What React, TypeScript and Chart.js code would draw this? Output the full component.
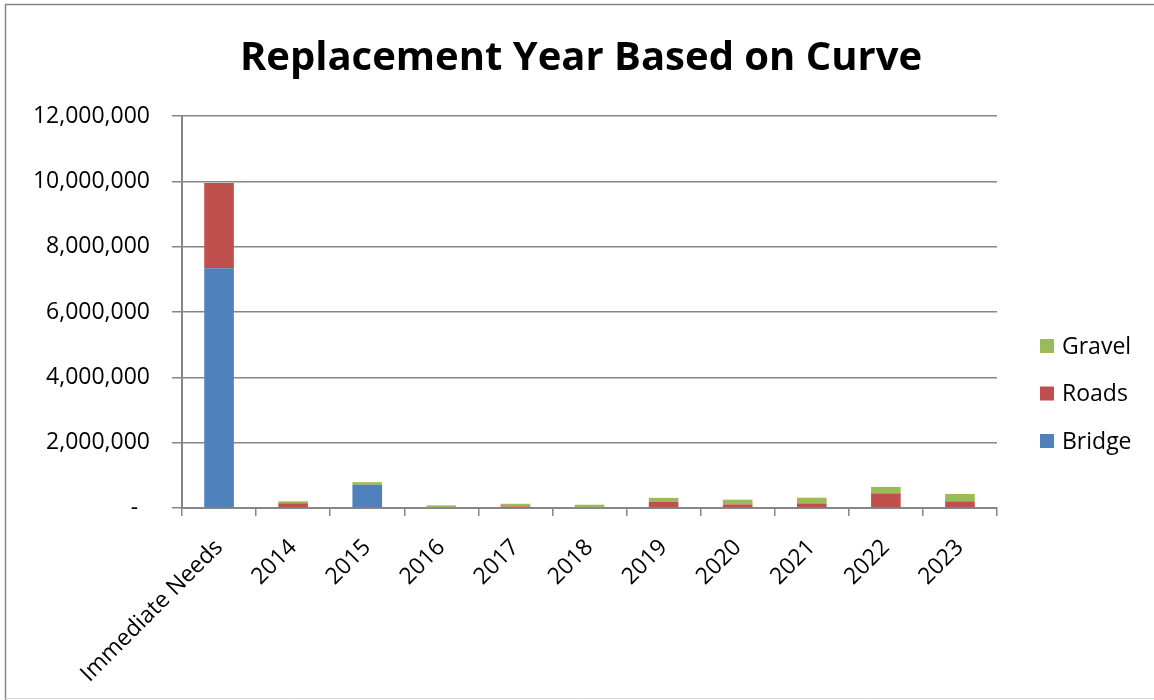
import React, { useEffect, useRef } from "react";
import { Chart, registerables } from "chart.js";

Chart.register(...registerables);

const categories = [
  "Immediate Needs",
  "2014",
  "2015",
  "2016",
  "2017",
  "2018",
  "2019",
  "2020",
  "2021",
  "2022",
  "2023",
];

const bridge = [7340000, 0, 710000, 0, 0, 0, 0, 0, 0, 0, 0];
const roads = [2610000, 145000, 0, 0, 50000, 0, 195000, 110000, 140000, 450000, 205000];
const gravel = [0, 60000, 80000, 80000, 80000, 100000, 115000, 145000, 175000, 195000, 225000];

const yTicks = [0, 2000000, 4000000, 6000000, 8000000, 10000000, 12000000];

const titleText = "Replacement Year Based on Curve";

const FONT = "'Open Sans', 'DejaVu Sans', sans-serif";
const AXIS_GREY = "#868686";
const LABEL_SIZE = 23;

// Frame around the whole chart plus the right-hand legend list.
const framePlugin = {
  id: "frameAndLegend",
  beforeDraw(chart: any) {
    const { ctx } = chart;
    ctx.save();
    ctx.fillStyle = "#ffffff";
    ctx.fillRect(0, 0, chart.width, chart.height);
    ctx.strokeStyle = AXIS_GREY;
    ctx.lineWidth = 1.5;
    ctx.beginPath();
    ctx.moveTo(5.5, chart.height);
    ctx.lineTo(5.5, 4.5);
    ctx.lineTo(chart.width, 4.5);
    ctx.stroke();
    ctx.strokeStyle = "#d9d9d9";
    ctx.lineWidth = 1;
    ctx.beginPath();
    ctx.moveTo(5.5, chart.height - 1.5);
    ctx.lineTo(chart.width, chart.height - 1.5);
    ctx.stroke();
    ctx.restore();
  },
  afterDraw(chart: any) {
    const { ctx } = chart;
    const items = chart.data.datasets.slice().reverse();
    const startY = 346;
    const step = 47.5;
    ctx.save();
    ctx.font = `${LABEL_SIZE}px ${FONT}`;
    ctx.textBaseline = "middle";
    ctx.textAlign = "left";
    items.forEach((ds: any, i: number) => {
      const y = startY + i * step;
      ctx.fillStyle = ds.backgroundColor;
      ctx.fillRect(1040, y - 7, 14, 14);
      ctx.fillStyle = "#000000";
      ctx.fillText(ds.label, 1062, y + 1);
    });
    ctx.restore();
  },
};

function formatTick(v: number): string {
  if (v === 0) return "-  ";
  return v.toLocaleString("en-US");
}

export default function App() {
  const canvasRef = useRef<HTMLCanvasElement | null>(null);

  useEffect(() => {
    if (!canvasRef.current) return;
    const chart = new Chart(canvasRef.current, {
      type: "bar",
      data: {
        labels: categories,
        datasets: [
          { label: "Bridge", data: bridge, backgroundColor: "#4F81BD", barPercentage: 0.4, categoryPercentage: 1 },
          { label: "Roads", data: roads, backgroundColor: "#C0504D", barPercentage: 0.4, categoryPercentage: 1 },
          { label: "Gravel", data: gravel, backgroundColor: "#9BBB59", barPercentage: 0.4, categoryPercentage: 1 },
        ],
      },
      options: {
        animation: false,
        responsive: false,
        maintainAspectRatio: false,
        layout: { padding: { left: 8, right: 0, top: 0, bottom: 10 } },
        plugins: {
          legend: { display: false },
          tooltip: { enabled: false },
          title: {
            display: true,
            text: titleText,
            color: "#000000",
            font: { family: FONT, size: 40, weight: "bold" },
            padding: { top: 35, bottom: 33 },
          },
        },
        scales: {
          x: {
            stacked: true,
            grid: {
              display: true,
              drawOnChartArea: false,
              drawTicks: true,
              tickLength: 8,
              color: AXIS_GREY,
              lineWidth: 1.5,
              offset: true,
            },
            border: { display: true, color: AXIS_GREY, width: 2 },
            ticks: {
              color: "#000000",
              font: { family: FONT, size: LABEL_SIZE },
              maxRotation: 45,
              minRotation: 45,
              autoSkip: false,
              padding: 18,
            },
            afterFit(scale: any) {
              scale.height = 182;
            },
          },
          y: {
            stacked: true,
            min: 0,
            max: 12000000,
            afterBuildTicks(scale: any) {
              scale.ticks = yTicks.map((v) => ({ value: v }));
            },
            grid: {
              color: AXIS_GREY,
              lineWidth: 1.5,
              drawTicks: true,
              tickLength: 10,
            },
            border: { display: true, color: AXIS_GREY, width: 2 },
            ticks: {
              color: "#000000",
              font: { family: FONT, size: LABEL_SIZE },
              padding: 22,
              callback: (v: any) => formatTick(Number(v)),
            },
            afterFit(scale: any) {
              scale.width = 174;
            },
          },
          // Empty right-hand axis that reserves the column the legend sits in.
          legendSpace: {
            type: "linear",
            position: "right",
            display: true,
            grid: { display: false, drawTicks: false },
            border: { display: false },
            ticks: { display: false },
            afterFit(scale: any) {
              scale.width = 157;
            },
          },
        },
      },
      plugins: [framePlugin],
    });
    return () => chart.destroy();
  }, []);

  return (
    <div style={{ position: "absolute", left: 0, top: 0, width: 1154, height: 700 }}>
      <canvas ref={canvasRef} width={1154} height={700} style={{ display: "block" }} />
    </div>
  );
}
